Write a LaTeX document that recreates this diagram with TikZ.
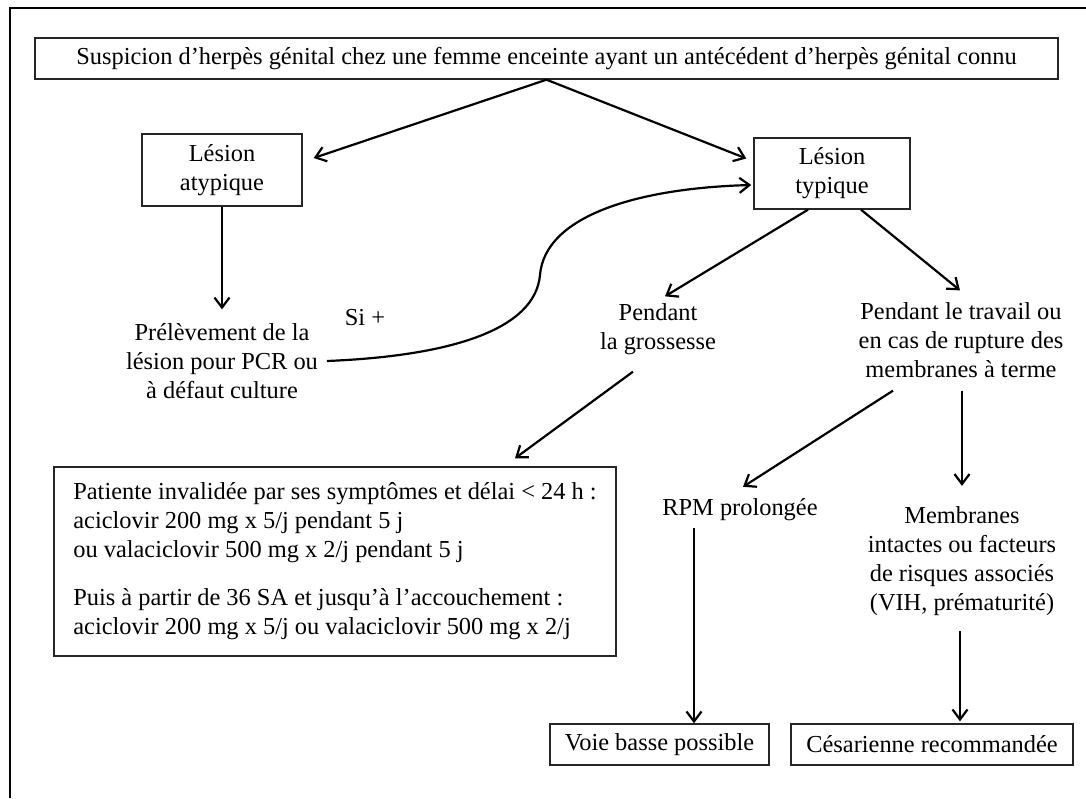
\documentclass[tikz,border=0pt]{standalone}
\usepackage{fontspec}
\setmainfont{Liberation Serif}
\usetikzlibrary{arrows.meta,calc}

\begin{document}
\begin{tikzpicture}[x=0.5pt,y=-0.5pt,
        font=\fontsize{12.2}{14.5}\selectfont,
        box/.style={draw=black!85, line width=0.7pt},
        txt/.style={align=center},
        arr/.style={-{Straight Barb[length=5pt,width=7.5pt]}, line width=1.1pt}]
        \useasboundingbox (0,0) rectangle (1086,798);

        % Frame
        \draw[line width=1.1pt] (10,798) -- (10,8) -- (1086,8);

        % Top
        \node[box, minimum width=511.5pt, minimum height=20.5pt] (top) at (546.5,58.5) {Suspicion d’herpès génital chez une femme enceinte ayant un antécédent d’herpès génital connu};

        % Lesions
        \node[box, txt, minimum width=80pt, minimum height=36pt] (atyp) at (222,170) {Lésion\\atypique};
        \node[box, txt, minimum width=78pt, minimum height=35.5pt] (typ) at (832,173.5) {Lésion\\typique};

        % Atypical branch
        \node[txt] (prel) at (222,361) {Prélèvement de la\\lésion pour PCR ou\\à défaut culture};
        \node (si) at (365,318) {Si +};

        % Typical branch
        \node[txt] (gross) at (658,329) {Pendant\\la grossesse};
        \node[txt] (trav) at (961,340) {Pendant le travail ou\\en cas de rupture des\\membranes à terme};

        % Treatment
        \node[box, align=left, minimum width=281pt, minimum height=94.5pt] (trait) at (335,561.5) {Patiente invalidée par ses symptômes et délai < 24 h :\\aciclovir 200 mg x 5/j pendant 5 j\\ou valaciclovir 500 mg x 2/j pendant 5 j\\[9.5pt]Puis à partir de 36 SA et jusqu’à l’accouchement :\\aciclovir 200 mg x 5/j ou valaciclovir 500 mg x 2/j};

        % Labour
        \node (rpm) at (740,510) {RPM prolongée};
        \node[txt] (memb) at (962,561.5) {Membranes\\intactes ou facteurs\\de risques associés\\(VIH, prématurité)};

        % Outcomes
        \node[box, minimum width=109.5pt, minimum height=20.5pt] (voie) at (659.5,744.5) {Voie basse possible};
        \node[box, minimum width=141pt, minimum height=20.5pt] (ces) at (932,744.5) {Césarienne recommandée};

        % Connections
        \draw[arr] (top.south) -- ([shift={(11,-12)}]atyp.east);
        \draw[arr] (top.south) -- ([shift={(-7,-15)}]typ.west);
        \draw[arr] (atyp.south) -- ([shift={(0,-7)}]prel.north);
        \coordinate (bend) at (540,275);
        \draw[arr] ([shift={(2,0)}]prel.east) .. controls (450,356) and (535,330) .. (bend)
            .. controls (545,215) and (640,188) .. ([shift={(-2,11.5)}]typ.west);
        \draw[arr] ([shift={(-24,0)}]typ.south) -- ([shift={(7,0)}]gross.north);
        \draw[arr] ([shift={(29,0)}]typ.south) -- ([shift={(-1,-5)}]trav.north);
        \draw[arr] ([shift={(-25,10)}]gross.south) -- ([shift={(180,-8)}]trait.north);
        \draw[arr] ([shift={(-68,6)}]trav.south) -- ([shift={(3,-5)}]rpm.north);
        \draw[arr] ([shift={(1,6)}]trav.south) -- ([shift={(0,-14)}]memb.north);
        \draw[arr] ([shift={(-46,0)}]rpm.south) -- ([shift={(34.5,0)}]voie.north);
        \draw[arr] ([shift={(-2,8)}]memb.south) -- ([shift={(28,-2)}]ces.north);
\end{tikzpicture}
\end{document}
